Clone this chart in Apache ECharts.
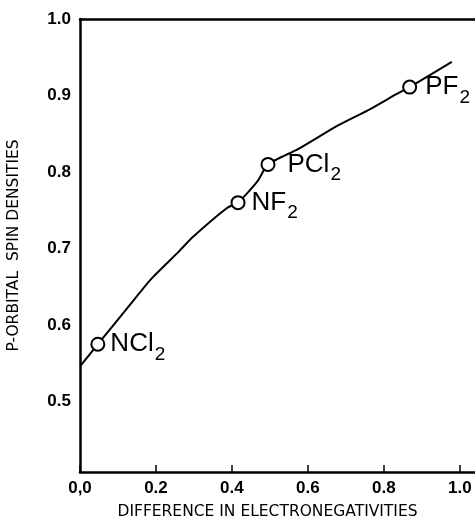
<!DOCTYPE html>
<html>
<head>
<meta charset="utf-8">
<script src="https://cdn.jsdelivr.net/npm/echarts@6/dist/echarts.min.js"></script>
<style>html,body{margin:0;padding:0;background:#fff}#c{width:475px;height:520px}</style>
</head>
<body>
<div id="c"></div>
<script>
// Data
const compoundMain = ['NCl', 'NF', 'PCl', 'PF'];
const compoundSub = ['2', '2', '2', '2'];
const diffX = [0.047, 0.416, 0.495, 0.868];
const spinY = [0.575, 0.760, 0.810, 0.911];
const curveX = [0, 0.047, 0.126, 0.187, 0.258, 0.297, 0.387, 0.416, 0.466, 0.495, 0.574, 0.676, 0.763, 0.834, 0.868, 0.979];
const curveY = [0.546, 0.575, 0.623, 0.660, 0.695, 0.715, 0.753, 0.760, 0.787, 0.810, 0.830, 0.860, 0.882, 0.902, 0.911, 0.944];
const xTickValues = [0, 0.2, 0.4, 0.6, 0.8, 1.0];
const xTickLabels = ['0,0', '0.2', '0.4', '0.6', '0.8', '1.0'];
const yTickValues = [0.5, 0.6, 0.7, 0.8, 0.9, 1.0];
const yTickLabels = ['0.5', '0.6', '0.7', '0.8', '0.9', '1.0'];

// label gaps (style)
const labelGap = [5, 6, 12, 8];

const chart = echarts.init(document.getElementById('c'), null, {renderer: 'canvas'});
const font = 'Liberation Sans, Arial, sans-serif';

const scatterData = diffX.map((x, i) => ({
  value: [x, spinY[i]],
  label: {
    show: true,
    position: 'right',
    distance: labelGap[i],
    formatter: '{a|' + compoundMain[i] + '}{b|' + compoundSub[i] + '}'
  }
}));

chart.setOption({
  animation: false,
  backgroundColor: '#fff',
  grid: {left: 80, right: 0, top: 19, bottom: 48, containLabel: false, outerBoundsMode: 'none'},
  xAxis: [{
    type: 'value', min: 0, max: 1.04,
    name: 'DIFFERENCE IN ELECTRONEGATIVITIES',
    nameLocation: 'middle', nameGap: 32,
    nameTextStyle: {fontFamily: 'DejaVu Sans', fontSize: 15.5, color: '#000', padding: [0, 0, 0, -20]},
    axisLine: {show: true, lineStyle: {color: '#000', width: 2.5}},
    axisTick: {show: true, inside: true, length: 7, lineStyle: {color: '#000', width: 1.5}, customValues: xTickValues},
    axisLabel: {
      show: true, margin: 8, customValues: xTickValues,
      fontFamily: font, fontWeight: 'bold', fontSize: 17, color: '#000',
      formatter: v => { const i = xTickValues.findIndex(t => Math.abs(t - v) < 1e-6); return i >= 0 ? xTickLabels[i] : ''; }
    },
    splitLine: {show: false}
  }, {
    type: 'value', min: 0, max: 1.04, position: 'top',
    axisLine: {show: true, lineStyle: {color: '#000', width: 2.5}},
    axisTick: {show: false}, axisLabel: {show: false}, splitLine: {show: false}
  }],
  yAxis: {
    type: 'value', min: 0.408, max: 1.0,
    name: 'P-ORBITAL  SPIN DENSITIES',
    nameLocation: 'middle', nameGap: 58,
    nameTextStyle: {fontFamily: 'DejaVu Sans', fontSize: 15.5, color: '#000', padding: [0, 0, 0, 0]},
    axisLine: {show: true, lineStyle: {color: '#000', width: 2.5}},
    axisTick: {show: false},
    axisLabel: {
      show: true, margin: 9, customValues: yTickValues,
      fontFamily: font, fontWeight: 'bold', fontSize: 17, color: '#000',
      formatter: v => { const i = yTickValues.findIndex(t => Math.abs(t - v) < 1e-6); return i >= 0 ? yTickLabels[i] : ''; }
    },
    splitLine: {show: false}
  },
  series: [{
    type: 'line',
    data: curveX.map((x, i) => [x, curveY[i]]),
    smooth: 0.2,
    showSymbol: false,
    lineStyle: {color: '#000', width: 2},
    z: 2
  }, {
    type: 'scatter',
    data: scatterData,
    symbol: 'circle',
    symbolSize: 13,
    itemStyle: {color: '#fff', borderColor: '#000', borderWidth: 2, opacity: 1},
    label: {
      color: '#000',
      rich: {
        a: {fontFamily: font, fontSize: 26, color: '#000', verticalAlign: 'top', lineHeight: 26},
        b: {fontFamily: font, fontSize: 19, color: '#000', verticalAlign: 'top', lineHeight: 19, padding: [14, 0, 0, 1]}
      }
    },
    z: 3
  }]
});
</script>
</body>
</html>
